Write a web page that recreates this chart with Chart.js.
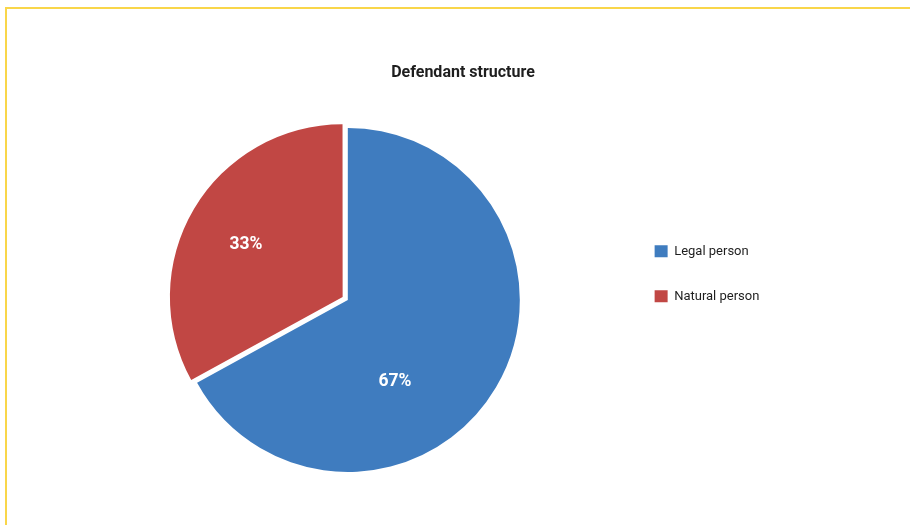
<!DOCTYPE html>
<html>
<head>
<meta charset="utf-8">
<title>Defendant structure</title>
<script src="https://cdn.jsdelivr.net/npm/chart.js@4/dist/chart.umd.min.js"></script>
<style>
  html, body { margin: 0; padding: 0; background: #ffffff; }
  #wrap { position: relative; width: 910px; height: 525px; overflow: hidden; }
  /* yellow frame around the chart, only top and left edges are in view */
  #frame {
    position: absolute; left: 5px; top: 7px; width: 1000px; height: 600px;
    border-top: 2px solid #f9d64a; border-left: 2px solid #f9d64a;
  }
  #pieChart { position: absolute; left: 0; top: 0; }
</style>
</head>
<body>
<div id="wrap">
  <div id="frame"></div>
  <canvas id="pieChart" width="910" height="525"></canvas>
</div>
<script>
const categories = ["Legal person", "Natural person"];
const shares = [67, 33];
const sliceColors = ["#3f7cbf", "#c14744"];
const sliceOffsets = [0, 24]; // natural person slice pulled out

const fontFamily = 'Roboto, "DejaVu Sans Condensed", sans-serif';

// white percentage labels inside each slice
const sliceLabels = {
  id: "sliceLabels",
  afterDatasetsDraw(chart, args, opts) {
    const ctx = chart.ctx;
    const meta = chart.getDatasetMeta(0);
    const values = chart.data.datasets[0].data;
    ctx.save();
    ctx.font = "bold " + opts.size + "px " + fontFamily;
    ctx.fillStyle = opts.color;
    ctx.textAlign = "center";
    ctx.textBaseline = "alphabetic";
    const capHalf = opts.size * 0.355; // centre the digits, not the em box
    meta.data.forEach(function (arc, i) {
      const p = arc.getProps(["x", "y", "startAngle", "endAngle", "outerRadius"], true);
      const shift = (arc.options.offset || 0) / 4; // arc is drawn this far out along its bisector
      const mid = (p.startAngle + p.endAngle) / 2;
      const a = p.startAngle + (p.endAngle - p.startAngle) * opts.along[i];
      const r = p.outerRadius * opts.dist[i];
      const x = p.x + Math.cos(mid) * shift + Math.cos(a) * r;
      const y = p.y + Math.sin(mid) * shift + Math.sin(a) * r;
      ctx.fillText(values[i] + "%", x, y + capHalf);
    });
    ctx.restore();
  },
};

document.addEventListener("DOMContentLoaded", function () {
  const ctx = document.getElementById("pieChart").getContext("2d");

  new Chart(ctx, {
    type: "pie",
    data: {
      labels: categories,
      datasets: [
        {
          data: shares,
          backgroundColor: sliceColors,
          borderWidth: 0,
          offset: sliceOffsets,
        },
      ],
    },
    options: {
      responsive: false,
      animation: false,
      layout: {
        padding: { left: 73, right: 57, top: 0, bottom: 41 },
      },
      plugins: {
        title: {
          display: true,
          text: "Defendant structure",
          color: "#1e1e1e",
          font: { family: fontFamily, size: 16, weight: "bold", lineHeight: 1.2 },
          padding: { top: 63.4, bottom: 33.4 },
        },
        // empty strip on the far right, keeps the legend in from the edge
        subtitle: {
          display: true,
          position: "right",
          text: "",
          font: { size: 10, lineHeight: 1.2 },
          padding: { top: 71.6, bottom: 0 },
        },
        legend: {
          position: "right",
          align: "start",
          title: {
            display: true,
            text: "",
            font: { size: 12, lineHeight: 1.2 },
            padding: { top: 198.4, bottom: 0 },
          },
          labels: {
            boxWidth: 13,
            boxHeight: 12,
            padding: 32,
            color: "#1e1e1e",
            font: { family: fontFamily, size: 13 },
          },
        },
        tooltip: { enabled: false },
        sliceLabels: {
          size: 17.5,
          color: "#ffffff",
          along: [0.62, 0.488],
          dist: [0.54, 0.644],
        },
      },
    },
    plugins: [sliceLabels],
  });
});
</script>
</body>
</html>
